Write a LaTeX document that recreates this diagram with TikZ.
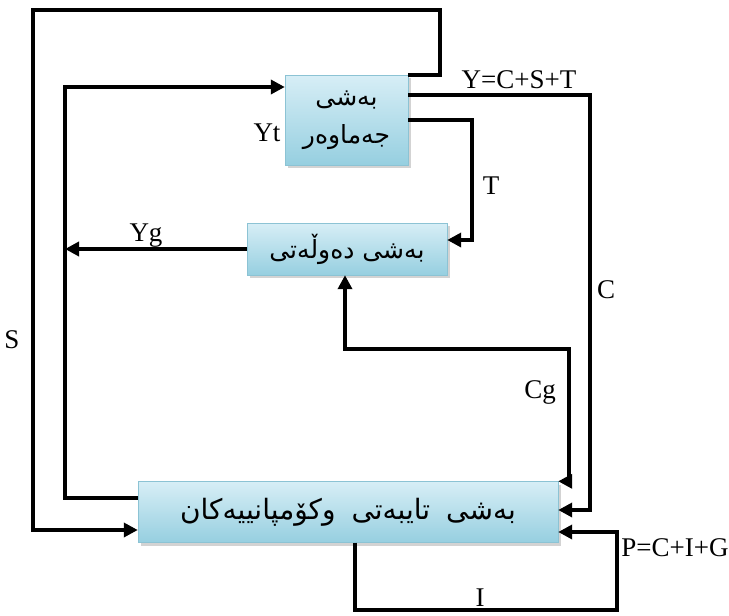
\documentclass[tikz,border=0pt]{standalone}
\usepackage{fontspec}
\setmainfont{Liberation Serif}
\newfontfamily\kurdfont[Script=Arabic]{DejaVu Sans}
\TeXXeTstate=1
\usetikzlibrary{positioning}
\usetikzlibrary{shadows}
\usetikzlibrary{arrows.meta}
\definecolor{boxlight}{RGB}{215,238,246}
\definecolor{boxdark}{RGB}{150,207,224}
\definecolor{boxedge}{RGB}{140,195,212}
\tikzset {
  % sector box with light blue shading
  sector/.style = {
    draw = boxedge,
    rectangle,
    top color = boxlight,
    bottom color = boxdark,
    drop shadow = {shadow xshift = 3pt, shadow yshift = -3pt, opacity = .35},
    font = \kurdfont\fontsize{25}{38}\selectfont,
    align = center,
    inner sep = 0
  },
  % connector with arrow at the end
  flow/.style = {
    draw = black,
    line width = 3.6pt,
    -{Triangle[length = 14pt, width = 14pt]}
  },
  % connector with arrows at both ends
  flows/.style = {
    flow,
    {Triangle[length = 14pt, width = 14pt]}-{Triangle[length = 14pt, width = 14pt]}
  },
  lbl/.style = {
    font = \fontsize{27}{30}\selectfont,
    inner sep = 0
  }
}

\begin{document}
\begin{tikzpicture}[x = 1pt, y = -1pt]
    \useasboundingbox (0,0) rectangle (729,616);
    \node[sector, minimum width = 123pt, minimum height = 90pt] (public) at (346.5,120)
      {\beginR بەشی\endR\\ \beginR جەماوەر\endR};
    \node[sector, minimum width = 200pt, minimum height = 52pt] (gov) at (347,249)
      {\beginR بەشی دەوڵەتی\endR};
    \node[sector, minimum width = 420pt, minimum height = 61pt,
          font = \kurdfont\fontsize{28}{32}\selectfont] (priv) at (348,512)
      {\spaceskip = 16pt\beginR بەشی تایبەتی وکۆمپانییەکان\endR};

    \coordinate (sTop) at (440,10);
    \coordinate (sLeft) at (33,10);
    \coordinate (ytLeft) at (65,87);
    \coordinate (cRight) at (590,300);
    \coordinate (tRight) at (472,180);
    \coordinate (cgTurn) at (569,349);
    \coordinate (iBottom) at (617,610);

    \draw[flow] (public.north east) -| (sTop) -- (sLeft) |- ([yshift = -18pt]priv.west);
    \draw[flow] ([yshift = 14pt]priv.west) -| (ytLeft) |- ([yshift = 33pt]public.west);
    \draw[flow] (gov.west) -- (gov.west -| ytLeft);
    \draw[flow] ([yshift = 25pt]public.east) -| (cRight) |- ([yshift = 2pt]priv.east);
    \draw[flow] (public.east) -| (tRight) |- ([yshift = 9pt]gov.east);
    \draw[flows] ([xshift = -2pt]gov.south) |- (cgTurn) |- (priv.north east);
    \draw[flow] ([xshift = 7pt]priv.south) |- (iBottom) |- ([yshift = -20pt]priv.east);

    \node[lbl] (s-label) at (12,340) {S};
    \node[lbl] (yt-label) at (267,133) {Yt};
    \node[lbl] (yg-label) at (146,236) {Yg};
    \node[lbl] (y-label) at (519,80) {Y=C+S+T};
    \node[lbl] (c-label) at (606,290) {C};
    \node[lbl] (t-label) at (491,186) {T};
    \node[lbl] (cg-label) at (540,392) {Cg};
    \node[lbl] (i-label) at (480,598) {I};
    \node[lbl] (p-label) at (675,548) {P=C+I+G};
\end{tikzpicture}
\end{document}
